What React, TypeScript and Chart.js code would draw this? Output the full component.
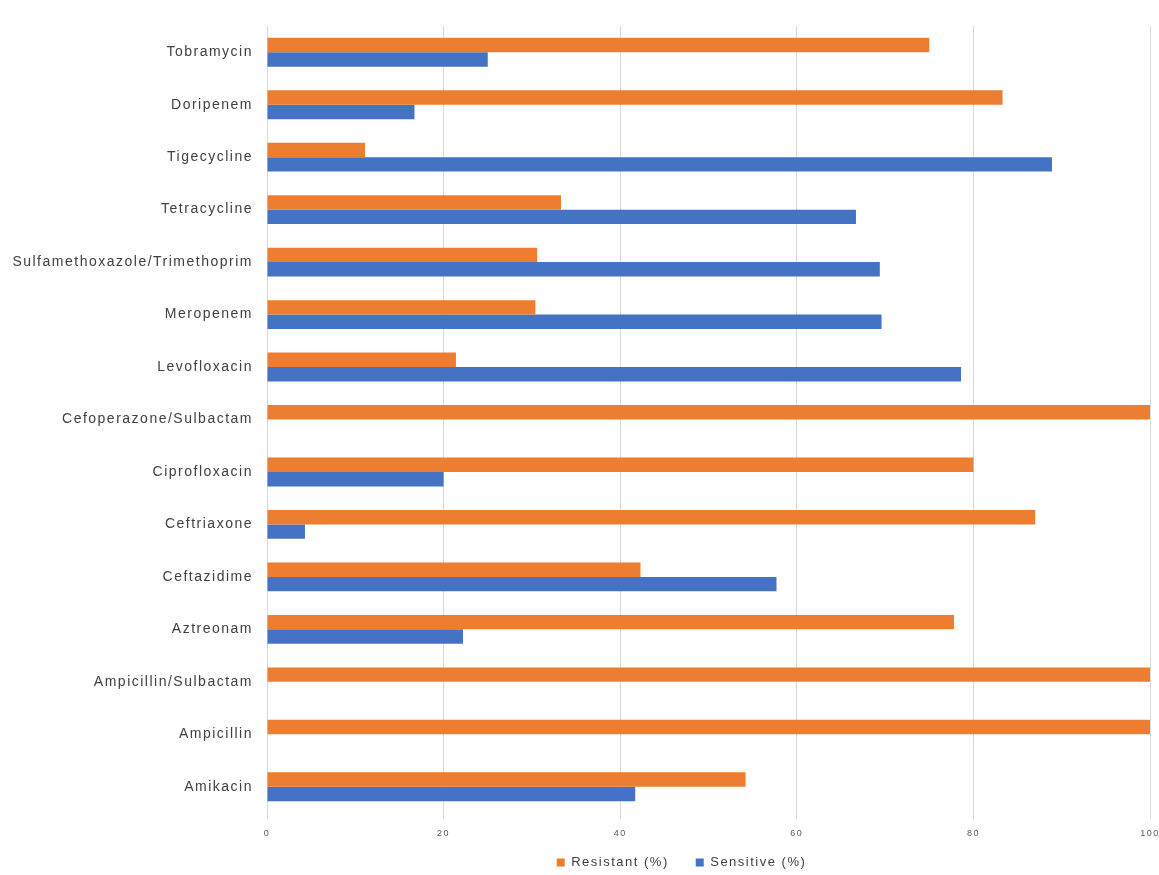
import React, { useEffect, useRef } from "react";
import { Chart, registerables } from "chart.js";

Chart.register(...registerables);

const categories = [
  "Tobramycin",
  "Doripenem",
  "Tigecycline",
  "Tetracycline",
  "Sulfamethoxazole/Trimethoprim",
  "Meropenem",
  "Levofloxacin",
  "Cefoperazone/Sulbactam",
  "Ciprofloxacin",
  "Ceftriaxone",
  "Ceftazidime",
  "Aztreonam",
  "Ampicillin/Sulbactam",
  "Ampicillin",
  "Amikacin",
];

const resistant = [75.0, 83.3, 11.1, 33.3, 30.6, 30.4, 21.4, 100, 80.0, 87.0, 42.3, 77.8, 100, 100, 54.2];
const sensitive = [25.0, 16.7, 88.9, 66.7, 69.4, 69.6, 78.6, 0, 20.0, 4.3, 57.7, 22.2, 0, 0, 41.7];

const xTicks = [0, 20, 40, 60, 80, 100];

const FONT = "Liberation Sans, Arial, sans-serif";

const spacingPlugin = {
  id: "spacing",
  beforeLayout(chart: any) {
    (chart.ctx as any).letterSpacing = "1.5px";
  },
  beforeDraw(chart: any) {
    (chart.ctx as any).letterSpacing = "1.5px";
  },
  afterLayout(chart: any) {
    const l = chart.legend;
    if (l) {
      l.left += 102;
      l.right += 102;
      l.top -= 12;
      l.bottom -= 12;
    }
  },
};

export default function App() {
  const ref = useRef<HTMLCanvasElement | null>(null);

  useEffect(() => {
    if (!ref.current) return;
    const chart = new Chart(ref.current, {
      type: "bar",
      data: {
        labels: categories,
        datasets: [
          {
            label: "Resistant (%)",
            data: resistant,
            backgroundColor: "#ED7D31",
            categoryPercentage: 0.55,
            barPercentage: 1.0,
          },
          {
            label: "Sensitive (%)",
            data: sensitive,
            backgroundColor: "#4472C4",
            categoryPercentage: 0.55,
            barPercentage: 1.0,
          },
        ],
      },
      plugins: [spacingPlugin],
      options: {
        indexAxis: "y",
        animation: false,
        responsive: true,
        maintainAspectRatio: false,
        layout: { padding: { left: 0, right: 0, top: 26, bottom: -16 } },
        scales: {
          x: {
            min: 0,
            max: 100,
            afterBuildTicks: (scale: any) => {
              scale.ticks = xTicks.map((v) => ({ value: v }));
            },
            afterFit: (scale: any) => {
              scale.height = 28;
              scale.paddingRight = 9;
            },
            grid: { color: "#d9d9d9", drawTicks: true, tickLength: 6, tickColor: "#d9d9d9" },
            border: { display: false },
            ticks: {
              color: "#595959",
              font: { family: FONT, size: 9 },
              padding: 9,
            },
          },
          y: {
            grid: { display: false, drawTicks: false },
            border: { display: true, color: "#d9d9d9" },
            afterFit: (scale: any) => {
              scale.width = 267;
            },
            ticks: {
              color: "#404040",
              font: { family: FONT, size: 14 },
              padding: 14,
            },
          },
        },
        plugins: {
          legend: {
            position: "bottom",
            labels: {
              color: "#404040",
              font: { family: FONT, size: 13 },
              boxWidth: 8,
              boxHeight: 8,
              padding: 27,
            },
          },
          tooltip: { enabled: false },
        },
      },
    });
    return () => chart.destroy();
  }, []);

  return (
    <div style={{ position: "absolute", left: 0, top: 0, width: 1159, height: 875, background: "#fff" }}>
      <canvas ref={ref} />
    </div>
  );
}
